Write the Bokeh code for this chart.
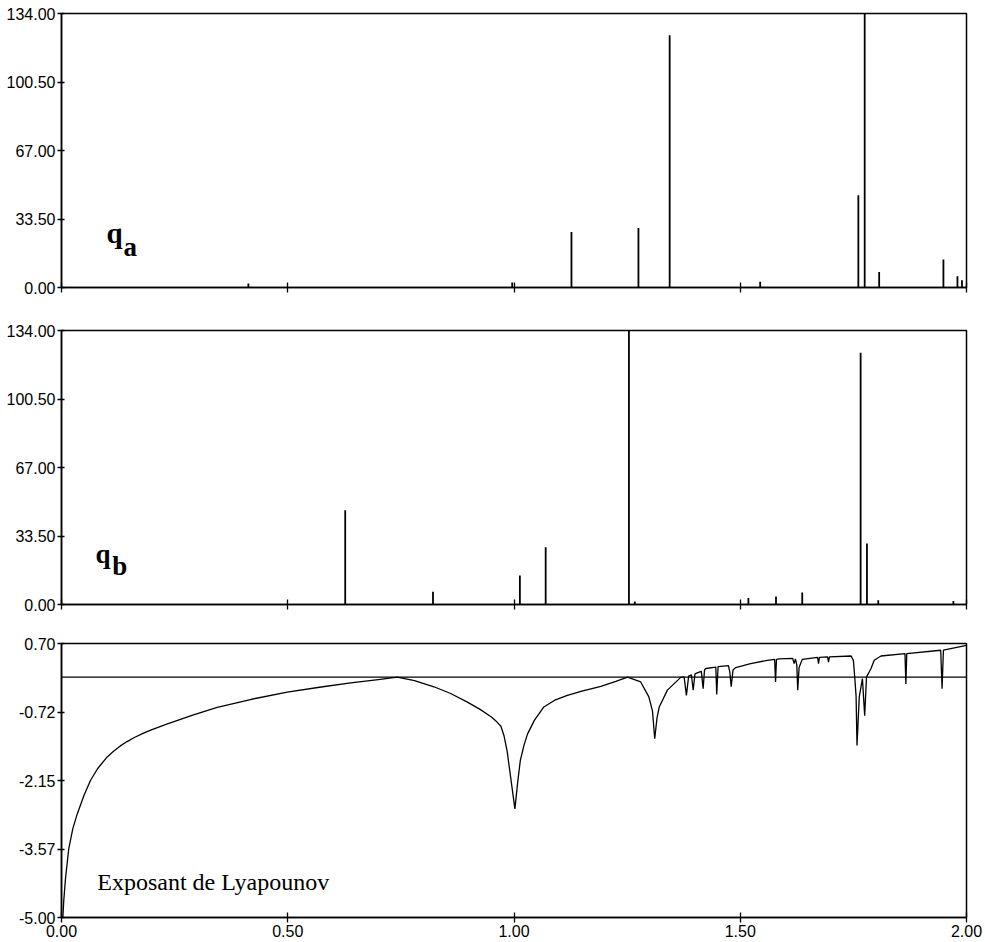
from bokeh.plotting import figure
from bokeh.layouts import column
from bokeh.models import Range1d, FixedTicker, NumeralTickFormatter, Span
from bokeh.core.properties import value
from bokeh.embed import file_html
from bokeh.resources import INLINE

# ---------------- data ----------------
x_ticks = [0.0, 0.5, 1.0, 1.5, 2.0]
q_ticks = [0.0, 33.5, 67.0, 100.5, 134.0]
lyap_ticks = [-5.0, -3.575, -2.15, -0.725, 0.7]
lyap_tick_labels = ["-5.00", "-3.57", "-2.15", "-0.72", "0.70"]

qa_x = [0.413, 0.996, 1.127, 1.275, 1.344, 1.544, 1.761, 1.775, 1.807, 1.949, 1.980, 1.990]
qa_h = [2.0, 2.4, 27.2, 29.1, 123.4, 2.8, 45.1, 134.0, 7.6, 13.7, 5.5, 3.6]

qb_x = [0.627, 0.821, 1.013, 1.070, 1.254, 1.267, 1.518, 1.579, 1.637, 1.766, 1.780, 1.805, 1.971]
qb_h = [46.1, 6.2, 14.2, 28.0, 134.0, 1.5, 3.2, 3.9, 5.9, 123.1, 29.8, 2.1, 1.7]

lyap_x = [0.003, 0.005, 0.009, 0.016, 0.025, 0.035, 0.050, 0.064, 0.080, 0.101,
          0.115, 0.130, 0.145, 0.160, 0.180, 0.200, 0.234, 0.290, 0.344, 0.420,
          0.499, 0.570, 0.639, 0.700, 0.742, 0.780, 0.823, 0.860, 0.897, 0.925,
          0.950, 0.962, 0.971, 0.978, 0.985, 0.990, 0.995, 1.002, 1.008, 1.014,
          1.022, 1.030, 1.045, 1.066, 1.090, 1.118, 1.150, 1.192, 1.225, 1.251,
          1.280, 1.298, 1.306, 1.311, 1.316, 1.321, 1.339, 1.369, 1.376, 1.381,
          1.386, 1.392, 1.396, 1.400, 1.405, 1.414, 1.418, 1.421, 1.424, 1.446,
          1.448, 1.451, 1.474, 1.477, 1.480, 1.484, 1.490, 1.523, 1.560, 1.576,
          1.578, 1.580, 1.586, 1.616, 1.619, 1.622, 1.625, 1.627, 1.630, 1.637,
          1.671, 1.673, 1.675, 1.693, 1.695, 1.697, 1.745, 1.750, 1.753, 1.756,
          1.758, 1.763, 1.770, 1.775, 1.779, 1.789, 1.796, 1.811, 1.864, 1.866,
          1.868, 1.943, 1.946, 1.949, 2.000]
lyap_y = [-5.00, -4.65, -4.17, -3.57, -3.15, -2.84, -2.45, -2.15, -1.90, -1.66,
          -1.54, -1.43, -1.34, -1.26, -1.17, -1.09, -0.97, -0.79, -0.63, -0.46,
          -0.31, -0.21, -0.12, -0.05, 0.00, -0.07, -0.20, -0.34, -0.52, -0.67,
          -0.83, -0.93, -1.02, -1.22, -1.55, -1.90, -2.25, -2.74, -2.20, -1.73,
          -1.42, -1.18, -0.90, -0.62, -0.48, -0.38, -0.29, -0.19, -0.09, 0.00,
          -0.10, -0.41, -0.70, -1.28, -0.85, -0.62, -0.27, 0.00, 0.00, -0.38,
          0.02, 0.05, -0.27, 0.07, 0.09, 0.12, -0.24, 0.15, 0.18, 0.21,
          -0.36, 0.22, 0.24, 0.10, -0.20, 0.15, 0.20, 0.28, 0.35, 0.37,
          -0.10, 0.37, 0.38, 0.39, 0.28, 0.38, 0.25, -0.27, 0.20, 0.37,
          0.41, 0.28, 0.41, 0.42, 0.31, 0.42, 0.44, 0.35, 0.00, -0.40,
          -1.42, -0.41, -0.03, -0.80, 0.00, 0.18, 0.35, 0.44, 0.49, -0.14,
          0.49, 0.56, -0.24, 0.56, 0.66]

label_qa = dict(qx=0.0995, qy=26.6, sx=0.137, sy=19.9)
label_qb = dict(qx=0.075, qy=24.6, sx=0.112, sy=18.9)
label_lyap = dict(x=0.079, y=-4.27, text="Exposant de Lyapounov")

# ---------------- figure construction ----------------
TICK_FONT = "Liberation Sans"
SERIF = "Liberation Serif"


def make_fig(y_lo, y_hi, b_top, b_bottom, show_x_labels):
    p = figure(frame_width=905, frame_height=274,
               min_border_left=61, min_border_right=17,
               min_border_top=b_top, min_border_bottom=b_bottom,
               x_range=Range1d(0, 2), y_range=Range1d(y_lo, y_hi),
               output_backend="svg", toolbar_location=None,
               background_fill_color="white", border_fill_color="white")
    p.grid.visible = False
    p.outline_line_color = "black"
    p.outline_line_width = 1.5
    p.outline_line_alpha = 1.0

    xa = p.xaxis[0]
    xa.ticker = FixedTicker(ticks=x_ticks)
    xa.formatter = NumeralTickFormatter(format="0.00")
    xa.axis_line_width = 1.5
    xa.major_tick_line_width = 1.3
    xa.major_tick_in = 5
    xa.major_tick_out = 5
    xa.minor_tick_line_color = None
    xa.major_label_text_font = TICK_FONT
    xa.major_label_text_font_size = "16px"
    xa.major_label_text_color = "black"
    xa.major_label_standoff = 2
    if not show_x_labels:
        xa.major_label_text_alpha = 0.0
        xa.major_label_text_font_size = "1px"

    ya = p.yaxis[0]
    ya.axis_line_width = 1.5
    ya.major_tick_line_width = 1.3
    ya.major_tick_in = 3
    ya.major_tick_out = 4
    ya.minor_tick_line_color = None
    ya.major_label_text_font = TICK_FONT
    ya.major_label_text_font_size = "16px"
    ya.major_label_text_color = "black"
    ya.major_label_standoff = 2
    return p


# Panel q_a
p1 = make_fig(0, 134, 13, 20, False)
p1.yaxis[0].ticker = FixedTicker(ticks=q_ticks)
p1.yaxis[0].formatter = NumeralTickFormatter(format="0.00")
p1.segment(x0=qa_x, y0=[0] * len(qa_x), x1=qa_x, y1=qa_h,
           line_color="black", line_width=1.8)
p1.text(x=[label_qa["qx"]], y=[label_qa["qy"]], text=["q"],
        text_font=value(SERIF), text_font_style="bold", text_font_size="29px",
        text_baseline="alphabetic", text_color="black")
p1.text(x=[label_qa["sx"]], y=[label_qa["sy"]], text=["a"],
        text_font=value(SERIF), text_font_style="bold", text_font_size="27px",
        text_baseline="alphabetic", text_color="black")

# Panel q_b
p2 = make_fig(0, 134, 23, 19, False)
p2.yaxis[0].ticker = FixedTicker(ticks=q_ticks)
p2.yaxis[0].formatter = NumeralTickFormatter(format="0.00")
p2.segment(x0=qb_x, y0=[0] * len(qb_x), x1=qb_x, y1=qb_h,
           line_color="black", line_width=1.8)
p2.text(x=[label_qb["qx"]], y=[label_qb["qy"]], text=["q"],
        text_font=value(SERIF), text_font_style="bold", text_font_size="27px",
        text_baseline="alphabetic", text_color="black")
p2.text(x=[label_qb["sx"]], y=[label_qb["sy"]], text=["b"],
        text_font=value(SERIF), text_font_style="bold", text_font_size="27px",
        text_baseline="alphabetic", text_color="black")

# Panel Lyapunov exponent
p3 = make_fig(-5.0, 0.7, 20, 25, True)
p3.yaxis[0].ticker = FixedTicker(ticks=lyap_ticks)
p3.yaxis[0].major_label_overrides = {t: s for t, s in zip(lyap_ticks, lyap_tick_labels)}
p3.add_layout(Span(location=0, dimension="width", line_color="black", line_width=1.2))
p3.line(lyap_x, lyap_y, line_color="black", line_width=1.3)
p3.text(x=[label_lyap["x"]], y=[label_lyap["y"]], text=[label_lyap["text"]],
        text_font=value(SERIF), text_font_size="24px",
        text_baseline="alphabetic", text_color="black")

layout = column(p1, p2, p3, spacing=0)

open("out.html", "w").write(file_html(layout, INLINE, "q_a, q_b et exposant de Lyapounov"))
